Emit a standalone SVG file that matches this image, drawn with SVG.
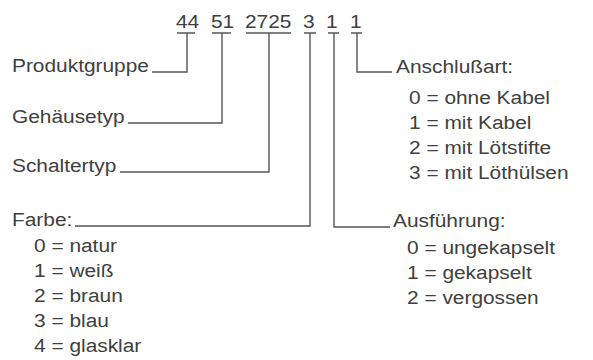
<svg xmlns="http://www.w3.org/2000/svg" width="593" height="360" viewBox="0 0 593 360">
<style>
text{font-family:"Liberation Sans",Arial,sans-serif;font-size:18px;fill:#404040}
.c{fill:none;stroke:#555;stroke-width:1.4}
</style>
<rect width="593" height="360" fill="#fff"/>
<g id="code">
<text transform="translate(176,28) scale(1.16,1)">44</text>
<text transform="translate(211,28) scale(1.16,1)">51</text>
<text transform="translate(245,28) scale(1.16,1)">2725</text>
<text transform="translate(303,28) scale(1.16,1)">3</text>
<text transform="translate(326,28) scale(1.16,1)">1</text>
<text transform="translate(350,28) scale(1.16,1)">1</text>
</g>
<g id="connectors">
<path class="c" d="M177,33H195M187,33V72H152"/>
<path class="c" d="M212,33H231M222,33V123H128"/>
<path class="c" d="M246,33H291M269,33V172H120"/>
<path class="c" d="M304,33H316M310,33V226H75"/>
<path class="c" d="M328,33H339M334,33V227H390"/>
<path class="c" d="M351,33H362M357,33V72H392"/>
</g>
<g id="produktgruppe"><text transform="translate(12,72) scale(1.16,1)">Produktgruppe</text></g>
<g id="gehaeusetyp"><text transform="translate(12,123) scale(1.16,1)">Gehäusetyp</text></g>
<g id="schaltertyp"><text transform="translate(12,172) scale(1.16,1)">Schaltertyp</text></g>
<g id="farbe">
<text transform="translate(12,226) scale(1.16,1)">Farbe:</text>
<text transform="translate(34,252) scale(1.16,1)">0 = natur</text>
<text transform="translate(34,277) scale(1.16,1)">1 = weiß</text>
<text transform="translate(34,302) scale(1.16,1)">2 = braun</text>
<text transform="translate(34,327) scale(1.16,1)">3 = blau</text>
<text transform="translate(34,352) scale(1.16,1)">4 = glasklar</text>
</g>
<g id="anschlussart">
<text transform="translate(396,73) scale(1.16,1)">Anschlußart:</text>
<text transform="translate(409,104) scale(1.16,1)">0 = ohne Kabel</text>
<text transform="translate(409,129) scale(1.16,1)">1 = mit Kabel</text>
<text transform="translate(409,154) scale(1.16,1)">2 = mit Lötstifte</text>
<text transform="translate(409,179) scale(1.16,1)">3 = mit Löthülsen</text>
</g>
<g id="ausfuehrung">
<text transform="translate(393,227) scale(1.16,1)">Ausführung:</text>
<text transform="translate(407,254) scale(1.16,1)">0 = ungekapselt</text>
<text transform="translate(407,279) scale(1.16,1)">1 = gekapselt</text>
<text transform="translate(407,304) scale(1.16,1)">2 = vergossen</text>
</g>
</svg>
